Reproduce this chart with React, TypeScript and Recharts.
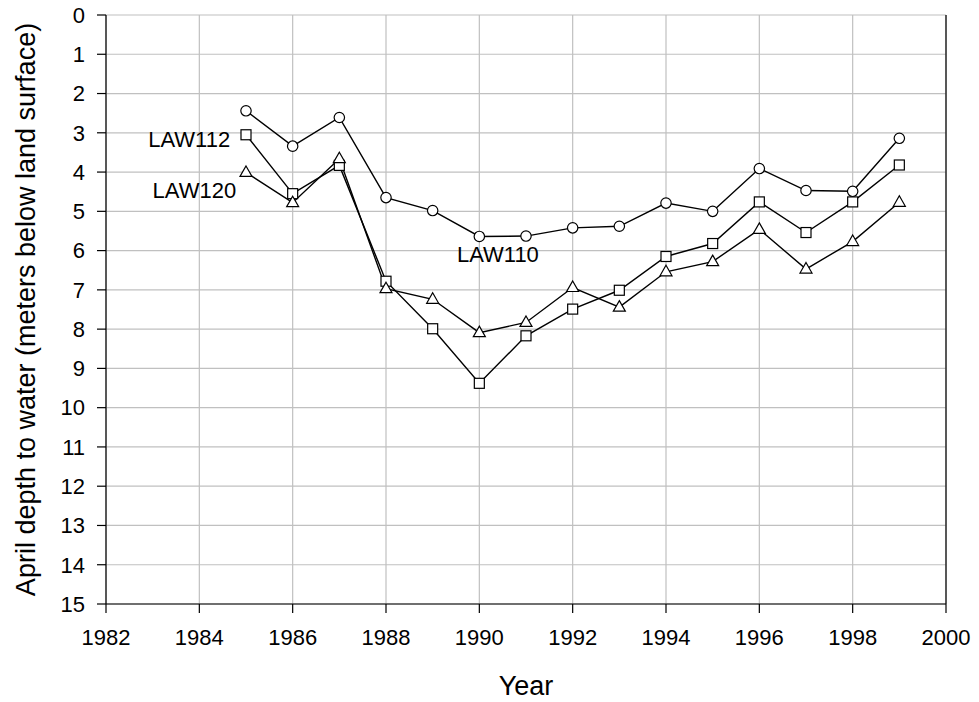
import React from 'react';
import { LineChart, Line, XAxis, YAxis, CartesianGrid, ReferenceLine, ReferenceDot } from 'recharts';

const years = [1985, 1986, 1987, 1988, 1989, 1990, 1991, 1992, 1993, 1994, 1995, 1996, 1997, 1998, 1999];
const law110 = [2.44, 3.34, 2.61, 4.65, 4.98, 5.64, 5.63, 5.42, 5.38, 4.79, 5.0, 3.91, 4.47, 4.49, 3.14];
const law112 = [3.05, 4.55, 3.83, 6.78, 7.99, 9.38, 8.17, 7.49, 7.01, 6.15, 5.82, 4.76, 5.54, 4.76, 3.82];
const law120 = [4.01, 4.78, 3.66, 6.97, 7.24, 8.09, 7.83, 6.94, 7.44, 6.54, 6.28, 5.46, 6.47, 5.77, 4.77];

const xTicks = [1982, 1984, 1986, 1988, 1990, 1992, 1994, 1996, 1998, 2000];
const yTicks = [0, 1, 2, 3, 4, 5, 6, 7, 8, 9, 10, 11, 12, 13, 14, 15];

const annotations = [
  { text: 'LAW112', year: 1984.66, depth: 3.17, anchor: 'end' },
  { text: 'LAW120', year: 1984.79, depth: 4.47, anchor: 'end' },
  { text: 'LAW110', year: 1989.52, depth: 6.09, anchor: 'start' },
];

const data = years.map((y, i) => ({ year: y, law110: law110[i], law112: law112[i], law120: law120[i] }));

const FONT = '"Liberation Sans", Arial, sans-serif';

const circleDot = (p: any) => (
  <circle key={`c-${p.index}`} cx={p.cx} cy={p.cy} r={5.2} fill="#fff" stroke="#000" strokeWidth={1.2} />
);
const squareDot = (p: any) => (
  <rect key={`s-${p.index}`} x={p.cx - 5} y={p.cy - 5} width={10} height={10} fill="#fff" stroke="#000" strokeWidth={1.2} />
);
const triDot = (p: any) => (
  <polygon
    key={`t-${p.index}`}
    points={`${p.cx},${p.cy - 6.5} ${p.cx + 6},${p.cy + 4} ${p.cx - 6},${p.cy + 4}`}
    fill="#fff"
    stroke="#000"
    strokeWidth={1.2}
  />
);

const yLabel = (props: any) => {
  const vb = props.viewBox;
  const x = vb.x + 35;
  const y = vb.y + vb.height / 2;
  return (
    <text x={x} y={y} transform={`rotate(-90, ${x}, ${y})`} textAnchor="middle" fontSize={27} fontFamily={FONT} fill="#000">
      April depth to water (meters below land surface)
    </text>
  );
};

const xLabel = (props: any) => {
  const vb = props.viewBox;
  return (
    <text x={vb.x + vb.width / 2} y={vb.y + 91} textAnchor="middle" fontSize={27} fontFamily={FONT} fill="#000">
      Year
    </text>
  );
};

export default function App() {
  return (
    <div style={{ position: 'absolute', left: 0, top: 0, width: 979, height: 702, background: '#fff' }}>
      <LineChart width={979} height={702} data={data} margin={{ top: 15, right: 33, left: 0, bottom: 0 }}>
        <CartesianGrid stroke="#c0c0c0" strokeWidth={1.2} />
        <XAxis
          dataKey="year"
          type="number"
          domain={[1982, 2000]}
          ticks={xTicks}
          interval={0}
          height={98}
          tickSize={9}
          tickMargin={16}
          axisLine={{ stroke: '#000', strokeWidth: 1.2 }}
          tickLine={{ stroke: '#000', strokeWidth: 1.2 }}
          tick={{ fill: '#000', fontSize: 22, fontFamily: FONT }}
          label={xLabel}
        />
        <YAxis
          type="number"
          reversed
          domain={[0, 15]}
          ticks={yTicks}
          interval={0}
          width={106}
          tickSize={9}
          tickMargin={12}
          axisLine={{ stroke: '#000', strokeWidth: 1.2 }}
          tickLine={{ stroke: '#000', strokeWidth: 1.2 }}
          tick={{ fill: '#000', fontSize: 22, fontFamily: FONT }}
          label={yLabel}
        />
        <ReferenceLine x={2000} stroke="#000" strokeWidth={1.2} />
        <Line dataKey="law110" stroke="#000" strokeWidth={1.4} dot={circleDot} isAnimationActive={false} />
        <Line dataKey="law112" stroke="#000" strokeWidth={1.4} dot={squareDot} isAnimationActive={false} />
        <Line dataKey="law120" stroke="#000" strokeWidth={1.4} dot={triDot} isAnimationActive={false} />
        {annotations.map((a) => (
          <ReferenceDot
            key={a.text}
            x={a.year}
            y={a.depth}
            r={0}
            shape={(p: any) => (
              <text x={p.cx} y={p.cy} dy="0.36em" textAnchor={a.anchor as any} fontSize={22} fontFamily={FONT} fill="#000">
                {a.text}
              </text>
            )}
          />
        ))}
      </LineChart>
    </div>
  );
}
